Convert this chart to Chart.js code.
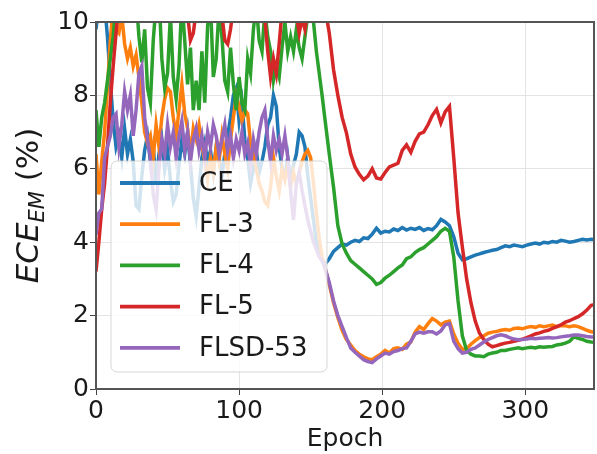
<!DOCTYPE html>
<html>
<head>
<meta charset="utf-8">
<script src="https://cdn.jsdelivr.net/npm/chart.js@4.4.1/dist/chart.umd.min.js"></script>
<style>
  html, body { margin: 0; padding: 0; background: #fff; }
  #wrap { width: 597px; height: 454px; }
</style>
</head>
<body>
<div id="wrap"><canvas id="chart" width="597" height="454"></canvas></div>
<script>
const epochs = [
  0, 2, 4, 6, 8, 10, 12, 14, 16, 18,
  20, 22, 24, 26, 28, 30, 32, 34, 36, 38,
  40, 42, 44, 46, 48, 50, 52, 54, 56, 58,
  60, 62, 64, 66, 68, 70, 72, 74, 76, 78,
  80, 82, 84, 86, 88, 90, 92, 94, 96, 98,
  100, 102, 104, 106, 108, 110, 112, 114, 116, 118,
  120, 122, 124, 126, 128, 130, 132, 134, 136, 138,
  140, 142, 144, 146, 148, 150, 152, 154, 156, 158,
  160,
  163, 166, 169, 172, 175, 178, 181, 184, 187, 190,
  193, 196, 199, 202, 205, 208, 211, 214, 217, 220,
  223, 226, 229, 232, 235, 238, 241, 244, 247, 250,
  253, 256, 259, 262, 265, 268, 271, 274, 277, 280,
  283, 286, 289, 292, 295, 298, 301, 304, 307, 310,
  313, 316, 319, 322, 325, 328, 331, 334, 337, 340,
  343, 346, 349
];

const ceValues = [
  9.8, 10.5, 10.2, 10.5, 9.6, 8.4, 7.3, 6.6, 6.9, 6.3,
  7.1, 6.4, 6.8, 6.2, 5.0, 4.9, 5.8, 6.5, 6.9, 6.2,
  6.6, 5.6, 6.4, 6.8, 6.0, 6.5, 5.7, 5.1, 5.3, 6.1,
  6.8, 6.4, 7.0, 6.1, 5.2, 4.7, 5.5, 6.3, 6.7, 6.2,
  6.5, 5.9, 6.6, 6.3, 5.8, 6.4, 6.9, 7.4, 8.0, 8.2,
  7.3, 7.8, 6.8, 6.3, 5.6, 6.0, 6.5, 5.9, 6.2, 6.6,
  7.2, 7.4, 8.0, 7.7, 6.6, 6.0, 5.8, 6.3, 5.6, 6.1,
  6.4, 7.0, 6.9, 6.6, 5.8, 5.2, 4.6, 4.0, 3.7, 3.5,
  3.4,
  3.55, 3.75, 3.85, 3.95, 3.92, 4.0, 4.05, 4.02, 4.12, 4.1,
  4.22, 4.38, 4.25, 4.3, 4.28, 4.36, 4.32, 4.4, 4.33, 4.38,
  4.35, 4.4, 4.32, 4.37, 4.34, 4.45, 4.62, 4.55, 4.45, 4.15,
  3.7, 3.52, 3.55, 3.6, 3.65, 3.68, 3.72, 3.75, 3.78, 3.8,
  3.85, 3.9, 3.88, 3.92, 3.9, 3.88, 3.92, 3.95, 3.98, 3.95,
  4.0, 3.98, 4.02, 4.0, 4.05, 4.03, 4.0, 4.02, 4.05, 4.08,
  4.06, 4.08, 4.07
];

const fl3Values = [
  6.4, 5.3, 6.2, 7.0, 8.2, 9.5, 10.4, 9.8, 9.7, 10.2,
  9.4, 9.0, 9.3, 8.8, 9.1, 8.5, 7.8, 7.0, 6.7, 6.9,
  6.3, 7.2, 6.6, 7.4, 7.9, 8.2, 8.1, 7.4, 6.9, 7.6,
  8.3, 7.5, 7.1, 6.4, 7.1, 6.8, 7.2, 6.7, 6.2, 5.7,
  6.3, 5.9, 6.6, 6.2, 6.9, 6.4, 6.0, 6.8, 7.4, 8.0,
  7.7, 7.3, 7.6, 7.5, 6.7, 6.4, 6.0, 5.6, 5.4, 5.1,
  5.0, 5.5, 6.3, 5.8, 5.4, 6.0, 5.7, 6.1, 5.5, 5.9,
  5.6, 5.9, 6.2, 6.4, 6.5, 6.3, 5.6, 4.8, 4.1, 3.6,
  3.3,
  2.85, 2.35, 1.95, 1.6, 1.35, 1.2, 1.05, 0.95, 0.88, 0.82,
  0.8, 0.88, 0.95, 1.05, 0.98, 1.1, 1.12, 1.08, 1.22, 1.28,
  1.55, 1.7, 1.62, 1.78, 1.92, 1.85, 1.75, 1.82, 1.85, 1.5,
  1.25, 1.08, 1.1, 1.22, 1.32, 1.4, 1.45, 1.52, 1.55, 1.57,
  1.6, 1.62, 1.6, 1.65, 1.66, 1.64, 1.68, 1.7, 1.68, 1.72,
  1.7, 1.72, 1.74, 1.7, 1.73, 1.72, 1.7, 1.72, 1.7, 1.65,
  1.6, 1.56, 1.55
];

const fl4Values = [
  7.6, 6.6, 7.4, 7.8, 8.4, 9.0, 9.6, 10.5, 11, 10.6,
  10.9, 10.5, 10.8, 10.3, 10.7, 9.6, 8.9, 9.8, 8.2, 7.8,
  9.5, 10.5, 10.8, 9.0, 8.2, 8.6, 10.2, 8.5, 7.9, 8.8,
  10.6, 9.5, 8.3, 9.3, 7.6, 8.4, 7.6, 9.2, 7.8, 9.9,
  10.5, 8.5, 9.0, 10.4, 9.6, 8.4, 8.1, 9.3, 8.3, 7.6,
  8.5, 7.8, 7.6, 9.0, 8.6, 9.8, 10.5, 9.5, 9.2, 10.3,
  9.6, 9.2, 8.4, 8.8, 8.5, 9.3, 10.0, 9.2, 9.6, 9.2,
  9.8, 9.3, 9.0, 9.6, 10.2, 10.4, 10.0, 9.2, 8.6, 8.0,
  7.35,
  6.4, 5.5, 4.45, 3.95, 3.7, 3.5, 3.4, 3.3, 3.2, 3.1,
  3.0, 2.85, 2.9, 3.02, 3.1, 3.2, 3.3, 3.38, 3.55, 3.6,
  3.72, 3.8, 3.85, 3.95, 4.05, 4.15, 4.3, 4.38, 4.3, 3.6,
  2.4, 1.45, 1.05, 0.95, 0.9, 0.9, 0.88, 0.95, 0.98, 1.0,
  1.05, 1.05, 1.08, 1.1, 1.12, 1.1, 1.12, 1.14, 1.12, 1.15,
  1.14, 1.15, 1.16, 1.2, 1.22, 1.25, 1.3, 1.42, 1.38, 1.35,
  1.3, 1.28, 1.27
];

const fl5Values = [
  3.2, 4.0, 4.9, 5.6, 6.6, 7.8, 8.8, 9.7, 10.5, 10.8,
  11, 10.6, 11, 10.7, 11, 10.9, 10.6, 11, 10.8, 11,
  10.7, 11, 10.9, 10.6, 11, 10.8, 11, 10.7, 11, 10.5,
  10.9, 10.6, 10.2, 9.5, 9.7, 10.3, 10.8, 11, 10.6, 11,
  10.8, 10.9, 10.5, 11, 10.2, 9.5, 9.4, 9.8, 10.4, 10.8,
  11, 10.7, 11, 10.6, 11, 10.8, 10.5, 11, 10.6, 10.1,
  9.2, 8.5, 9.0, 8.6, 9.4, 10.3, 10.7, 11, 10.5, 10.8,
  10.2, 9.7, 10.1, 9.8, 10.3, 10.8, 11, 11, 11, 10.8,
  10.4,
  9.7, 8.7, 8.0, 7.4, 6.98, 6.4, 6.05, 5.85, 5.7, 5.8,
  6.0, 5.75, 5.72, 5.9, 6.05, 6.1, 6.15, 6.5, 6.65, 6.45,
  6.75, 6.95, 7.0, 7.2, 7.45, 7.62, 7.25, 7.55, 7.7, 6.3,
  4.8, 3.87, 3.0, 2.35, 1.85, 1.52, 1.35, 1.22, 1.15, 1.18,
  1.22, 1.25, 1.27, 1.3, 1.33, 1.36, 1.4, 1.45, 1.5, 1.53,
  1.57, 1.6, 1.65, 1.7, 1.75, 1.82, 1.86, 1.92, 1.97, 2.05,
  2.15, 2.28, 2.3
];

const flsdValues = [
  4.2, 4.8, 4.9, 6.3, 6.6, 6.9, 7.4, 7.5, 6.6, 7.2,
  8.1, 7.6, 8.0, 6.9, 7.6, 8.6, 8.8, 7.4, 6.8, 6.3,
  5.3, 4.9, 6.0, 6.8, 6.4, 7.2, 6.6, 7.0, 6.3, 6.9,
  7.3, 6.5, 7.0, 6.2, 6.8, 7.1, 6.5, 6.9, 6.3, 7.0,
  6.6, 7.2, 6.9, 6.4, 6.8, 7.2, 6.5, 6.9, 6.3, 6.8,
  6.5, 7.0, 6.4, 6.7, 6.1, 6.8, 6.4, 7.0, 7.4, 7.6,
  6.8, 6.2, 6.9, 6.5, 6.8, 6.4, 6.9, 6.3, 5.4, 4.6,
  5.6, 5.9, 5.4, 5.0, 4.6, 4.3, 4.0, 3.8, 3.6, 3.5,
  3.3,
  2.9, 2.4, 2.0, 1.7, 1.4, 1.12, 1.0, 0.9, 0.8, 0.75,
  0.72, 0.82, 0.9, 0.98, 0.95, 1.02, 1.05, 1.1, 1.12, 1.3,
  1.5, 1.55, 1.52, 1.56, 1.56, 1.5, 1.58, 1.75, 1.78, 1.3,
  1.1, 0.98, 1.0, 1.08, 1.12, 1.2, 1.28, 1.35, 1.4, 1.45,
  1.48, 1.45, 1.4, 1.36, 1.34, 1.35, 1.36, 1.38, 1.37, 1.38,
  1.39, 1.4, 1.39, 1.4, 1.42, 1.44, 1.45, 1.47, 1.47, 1.45,
  1.43, 1.42, 1.42
];

const seriesLabels = ['CE', 'FL-3', 'FL-4', 'FL-5', 'FLSD-53'];
const seriesValues = [ceValues, fl3Values, fl4Values, fl5Values, flsdValues];
const seriesColors = ['#1f77b4', '#ff7f0e', '#2ca02c', '#d62728', '#9467bd'];

const xTicks = [0, 100, 200, 300];
const yTicks = [0, 2, 4, 6, 8, 10];

const FONT = "'DejaVu Sans', sans-serif";

const toPoints = (vals) => vals.map((v, i) => ({ x: epochs[i], y: v }));

// axes frame drawn over the lines, like matplotlib spines
const framePlugin = {
  id: 'frame',
  afterDatasetsDraw(chart) {
    const { ctx, chartArea: a } = chart;
    ctx.save();
    ctx.strokeStyle = '#555';
    ctx.lineWidth = 2;
    ctx.strokeRect(a.left, a.top, a.right - a.left, a.bottom - a.top);
    ctx.restore();
  }
};

// legend box inside the plot, semi-transparent white like framealpha=0.8
const innerLegendPlugin = {
  id: 'innerLegend',
  afterDatasetsDraw(chart) {
    const { ctx } = chart;
    const box = { x: 111, y: 161, w: 216, h: 211, r: 6 };
    ctx.save();
    ctx.beginPath();
    ctx.roundRect(box.x, box.y, box.w, box.h, box.r);
    ctx.fillStyle = 'rgba(255,255,255,0.8)';
    ctx.fill();
    ctx.strokeStyle = 'rgba(204,204,204,0.8)';
    ctx.lineWidth = 1;
    ctx.stroke();

    ctx.font = '26px ' + FONT;
    ctx.textBaseline = 'middle';
    ctx.textAlign = 'left';
    chart.data.datasets.forEach((ds, i) => {
      const y = 183 + i * 41.2;
      ctx.beginPath();
      ctx.moveTo(120, y);
      ctx.lineTo(180, y);
      ctx.strokeStyle = ds.borderColor;
      ctx.lineWidth = 3.8;
      ctx.stroke();
      ctx.fillStyle = '#1a1a1a';
      ctx.fillText(ds.label, 199, y + 1);
    });
    ctx.restore();
  }
};

// y title with italic ECE and subscript EM
const yTitlePlugin = {
  id: 'yTitle',
  afterDraw(chart) {
    const { ctx, chartArea: a } = chart;
    const big = 'italic 31px ' + FONT;
    const small = 'italic 21px ' + FONT;
    const plain = '31px ' + FONT;
    ctx.save();
    ctx.font = big; const w1 = ctx.measureText('ECE').width;
    ctx.font = small; const w2 = ctx.measureText('EM').width;
    ctx.font = plain; const w3 = ctx.measureText(' (%)').width;
    const total = w1 + w2 + w3;
    ctx.translate(38, (a.top + a.bottom) / 2);
    ctx.rotate(-Math.PI / 2);
    ctx.fillStyle = '#1a1a1a';
    ctx.textBaseline = 'alphabetic';
    ctx.textAlign = 'left';
    let x = -total / 2;
    ctx.font = big; ctx.fillText('ECE', x, 0); x += w1;
    ctx.font = small; ctx.fillText('EM', x, 6); x += w2;
    ctx.font = plain; ctx.fillText(' (%)', x, 0);
    ctx.restore();
  }
};

new Chart(document.getElementById('chart'), {
  type: 'line',
  data: {
    datasets: seriesLabels.map((label, i) => ({
      label,
      data: toPoints(seriesValues[i]),
      borderColor: seriesColors[i],
      backgroundColor: seriesColors[i],
      borderWidth: 3.5,
      pointRadius: 0,
      tension: 0,
      clip: 0,
      order: seriesLabels.length - i
    }))
  },
  options: {
    responsive: false,
    animation: false,
    devicePixelRatio: 1,
    layout: { padding: { top: 22, right: 3, left: 0, bottom: 0 } },
    plugins: { legend: { display: false }, tooltip: { enabled: false } },
    scales: {
      x: {
        type: 'linear',
        min: 0,
        max: 348,
        afterBuildTicks: (s) => { s.ticks = xTicks.map(v => ({ value: v })); },
        afterFit: (s) => { s.height = 65; },
        border: { display: false },
        grid: { color: '#e3e3e3', lineWidth: 1, tickLength: 6, tickColor: '#444' },
        ticks: { font: { family: FONT, size: 25 }, color: '#1a1a1a', padding: 1, maxRotation: 0 },
        title: { display: true, text: 'Epoch', font: { family: FONT, size: 25 }, color: '#1a1a1a', padding: { top: -2, bottom: 0 } }
      },
      y: {
        min: 0,
        max: 10,
        afterBuildTicks: (s) => { s.ticks = yTicks.map(v => ({ value: v })); },
        afterFit: (s) => { s.width = 96; },
        border: { display: false },
        grid: { color: '#e3e3e3', lineWidth: 1, tickLength: 6, tickColor: '#444' },
        ticks: { font: { family: FONT, size: 25 }, color: '#1a1a1a', padding: 1 }
      }
    }
  },
  plugins: [framePlugin, innerLegendPlugin, yTitlePlugin]
});
</script>
</body>
</html>
